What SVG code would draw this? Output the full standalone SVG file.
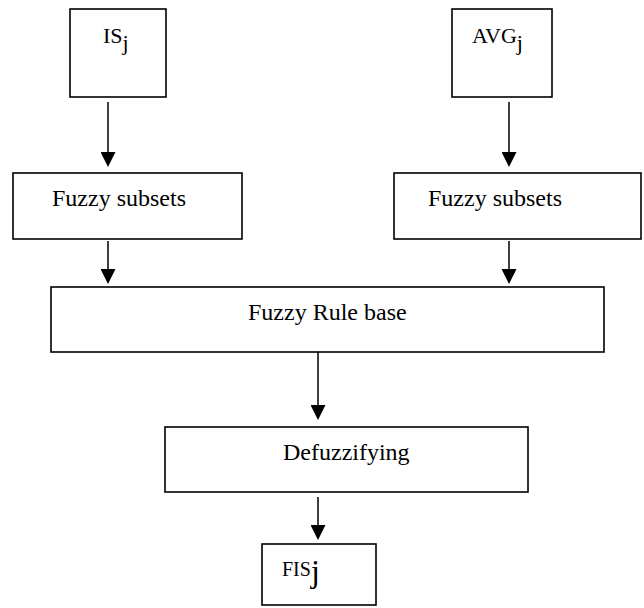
<svg xmlns="http://www.w3.org/2000/svg" width="644" height="608" viewBox="0 0 644 608">
<style>
.box{fill:#fff;stroke:#000;stroke-width:1.6}
.t{font-family:"Liberation Serif","Times New Roman",serif;font-size:24px;fill:#000}
.s{font-family:"Liberation Serif","Times New Roman",serif;font-size:22px;fill:#000}
.c{stroke:#000;stroke-width:1.5;fill:none}
</style>
<defs>
<marker id="ah" markerUnits="userSpaceOnUse" markerWidth="15" markerHeight="15" viewBox="0 0 15 15" refX="3" refY="7.5" orient="auto">
<path d="M0,0 L15,7.5 L0,15 z" fill="#000"/>
</marker>
</defs>
<rect width="644" height="608" fill="#fff"/>
<g id="connectors">
<line class="c" x1="108" y1="102" x2="108" y2="155" marker-end="url(#ah)"/>
<line class="c" x1="509" y1="102" x2="509" y2="155" marker-end="url(#ah)"/>
<line class="c" x1="108" y1="241" x2="108" y2="272" marker-end="url(#ah)"/>
<line class="c" x1="509" y1="241" x2="509" y2="272" marker-end="url(#ah)"/>
<line class="c" x1="318" y1="333" x2="318" y2="408" marker-end="url(#ah)"/>
<line class="c" x1="318" y1="497" x2="318" y2="528" marker-end="url(#ah)"/>
</g>
<g id="node-is">
<rect class="box" x="70" y="9" width="96" height="88"/>
<text class="s" x="103" y="43">IS<tspan dy="7">j</tspan></text>
</g>
<g id="node-avg">
<rect class="box" x="452" y="9" width="100" height="88"/>
<text class="s" x="472" y="43">AVG<tspan dy="7">j</tspan></text>
</g>
<g id="node-fs-left">
<rect class="box" x="13" y="173" width="229" height="66"/>
<text class="t" x="52" y="206">Fuzzy subsets</text>
</g>
<g id="node-fs-right">
<rect class="box" x="394" y="173" width="247" height="66"/>
<text class="t" x="428" y="206">Fuzzy subsets</text>
</g>
<g id="node-rulebase">
<rect class="box" x="51" y="287" width="553" height="65"/>
<text class="t" x="248" y="320">Fuzzy Rule base</text>
</g>
<g id="node-defuzz">
<rect class="box" x="165" y="427" width="363" height="65"/>
<text class="t" x="283" y="460">Defuzzifying</text>
</g>
<g id="node-fis">
<rect class="box" x="262" y="544" width="114" height="61"/>
<text x="282" y="576" style="font-family:'Liberation Serif','Times New Roman',serif;font-size:20px">FIS<tspan dy="6" style="font-size:32px">j</tspan></text>
</g>
</svg>
